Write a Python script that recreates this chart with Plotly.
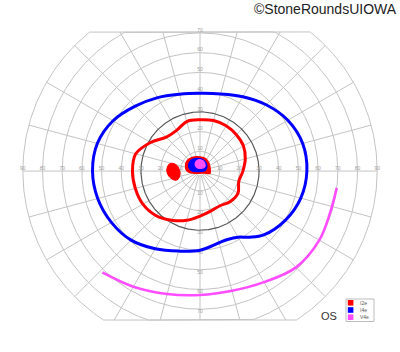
import numpy as np
import plotly.graph_objects as go

# ---------------- data ----------------
ring_ecc = [10, 20, 30, 40, 50, 60, 70, 80, 90]
meridians = list(range(0, 360, 15))
h_tick_vals = [10, 20, 30, 40, 50, 60, 70, 80, 90]
v_tick_vals = [10, 20, 30, 40, 50, 60, 70]
field_top, field_bottom = 70.5, -75.5

# I4e isopter (blue): meridian (deg) / eccentricity (deg)
i4e_meridian = [0, 15, 30, 45, 60, 75, 90, 105, 120, 135, 150, 165, 180, 195, 210,
                225, 240, 255, 270, 285, 292, 300, 307, 315, 330, 345]
i4e_ecc = [54.3, 54.0, 51.5, 47.5, 43.5, 40.5, 39.4, 40.3, 43.0, 46.5, 51.0, 54.0, 54.6,
           53.8, 52.0, 49.5, 45.5, 42.0, 40.1, 37.6, 37.4, 38.7, 42.0, 45.8, 50.0, 53.0]

# I2e isopter (red)
i2e_meridian = [0, 15, 30, 45, 60, 75, 90, 105, 120, 135, 150, 165, 180, 195, 210,
                225, 240, 255, 270, 285, 300, 315, 330, 345]
i2e_ecc = [21.8, 23.8, 25.5, 26.1, 26.5, 26.5, 26.0, 26.0, 23.8, 24.3, 29.0, 33.8, 34.3,
           34.0, 33.5, 31.8, 28.8, 25.8, 22.8, 21.0, 20.3, 21.8, 22.3, 20.4]

# V4e isopter (magenta, open arc)
v4e_meridian = [226, 240, 255, 270, 285, 300, 315, 330, 342, 353]
v4e_ecc = [71.4, 67.7, 64.5, 62.8, 62.8, 65.0, 69.0, 70.0, 69.4, 70.0]

# blind spot (I2e, filled) in x/y degrees
blind_x = [-14.7, -12.0, -10.3, -10.5, -12.3, -14.5, -16.6, -16.5]
blind_y = [3.9, 3.0, 0.0, -3.0, -4.6, -3.8, -1.0, 2.2]

# central islands (x/y degrees)
c_i2e_x = [-7.4, -6.4, -3.5, 0.0, 3.0, 4.6, 5.2, 5.1, 2.0, -1.5, -4.5, -6.8]
c_i2e_y = [2.5, 5.5, 7.1, 7.2, 6.3, 4.0, 1.0, -1.2, -1.0, -1.2, -1.0, 0.2]
c_i4e_x = [-5.8, -4.8, -2.0, 1.2, 3.2, 3.4, 2.5, -1.0, -4.5]
c_i4e_y = [2.5, 5.3, 6.4, 6.0, 4.0, 1.5, 0.2, -0.3, 0.3]
c_v4e_x = [-2.5, -1.5, 0.8, 2.4, 2.3, 0.5, -1.6]
c_v4e_y = [3.5, 5.4, 5.6, 4.0, 2.0, 1.4, 1.8]

legend_names = ["I2e", "I4e", "V4e"]
legend_colors = ["#ff0000", "#0000ff", "#ff4dff"]

# ---------------- figure ----------------
W, H = 400, 352
ML, MR, MT, MB = 13, 13, 29, 29


def polar_xy(mer, ecc, close=False):
    a = np.radians(np.array(mer, float))
    r = np.array(ecc, float)
    x, y = list(r * np.cos(a)), list(r * np.sin(a))
    if close:
        x.append(x[0]); y.append(y[0])
    return x, y


fig = go.Figure()

# grid rings (clamped to the field band -> chords at top/bottom)
gx, gy = [], []
t = np.linspace(0, 2 * np.pi, 721)
for r in ring_ecc:
    if r == 30:
        continue
    gx += list(r * np.cos(t)) + [None]
    gy += list(np.clip(r * np.sin(t), field_bottom, field_top)) + [None]
# meridian lines
for m in meridians:
    a = np.radians(m)
    s = np.sin(a)
    rend = 90.0
    if s > 1e-9:
        rend = min(rend, field_top / s)
    elif s < -1e-9:
        rend = min(rend, field_bottom / s)
    gx += [2 * np.cos(a), rend * np.cos(a), None]
    gy += [2 * np.sin(a), rend * np.sin(a), None]
fig.add_trace(go.Scatter(x=gx, y=gy, mode="lines", line=dict(color="#c4c4c4", width=1),
                         hoverinfo="skip", showlegend=False))
# 30 degree ring darker
fig.add_trace(go.Scatter(x=list(30 * np.cos(t)), y=list(30 * np.sin(t)), mode="lines",
                         line=dict(color="#5a5a5a", width=1.2), hoverinfo="skip", showlegend=False))

# tick labels
lx, ly, lt = [], [], []
for v in h_tick_vals:
    lx += [v, -v]; ly += [1.0, 1.0]; lt += [str(v), str(v)]
for v in v_tick_vals:
    lx += [0, 0]; ly += [v + 1.3, -v - 1.3]; lt += [str(v), str(v)]
fig.add_trace(go.Scatter(x=lx, y=ly, text=lt, mode="text",
                         textfont=dict(size=5, color="#a0a0a0", family="Liberation Sans"),
                         hoverinfo="skip", showlegend=False, cliponaxis=False))

# isopters
x, y = polar_xy(i4e_meridian, i4e_ecc, close=True)
fig.add_trace(go.Scatter(x=x, y=y, mode="lines", name="I4e",
                         line=dict(color="#0000ff", width=3, shape="spline", smoothing=1.0),
                         showlegend=False))
x, y = polar_xy(i2e_meridian, i2e_ecc, close=True)
fig.add_trace(go.Scatter(x=x, y=y, mode="lines", name="I2e",
                         line=dict(color="#ff0000", width=3, shape="spline", smoothing=1.0),
                         showlegend=False))
x, y = polar_xy(v4e_meridian, v4e_ecc)
fig.add_trace(go.Scatter(x=x, y=y, mode="lines", name="V4e",
                         line=dict(color="#ff4dff", width=2.6, shape="spline", smoothing=1.0),
                         showlegend=False))

# blind spot and central islands
for bx, by, col in [(blind_x, blind_y, "#ff0000"),
                    (c_i2e_x, c_i2e_y, "#ff0000"),
                    (c_i4e_x, c_i4e_y, "#0000ff"),
                    (c_v4e_x, c_v4e_y, "#ff4dff")]:
    fig.add_trace(go.Scatter(x=bx + bx[:1], y=by + by[:1], mode="lines", fill="toself",
                             fillcolor=col, line=dict(color=col, width=1.2, shape="spline"),
                             hoverinfo="skip", showlegend=False))


def px(xp):
    return (xp - ML) / (W - ML - MR)


def py(yp):
    return (H - MB - yp) / (H - MT - MB)


shapes = [dict(type="rect", xref="paper", yref="paper", x0=px(346), x1=px(374),
               y0=py(321.5), y1=py(299), line=dict(color="#bdbdbd", width=1), fillcolor="white")]
annotations = []
row_top = [300.0, 307.2, 314.4]
for i, (nm, col) in enumerate(zip(legend_names, legend_colors)):
    shapes.append(dict(type="rect", xref="paper", yref="paper", x0=px(347.8), x1=px(353.4),
                       y0=py(row_top[i] + 5.6), y1=py(row_top[i]), line=dict(width=0),
                       fillcolor=col))
    annotations.append(dict(x=px(358), y=py(row_top[i] + 2.8), xref="paper", yref="paper",
                            text=nm, showarrow=False, xanchor="left", yanchor="middle",
                            font=dict(size=5, color="#555", family="Liberation Sans")))
annotations.append(dict(x=px(328.5), y=py(316), xref="paper", yref="paper", text="OS",
                        showarrow=False, xanchor="center", yanchor="middle",
                        font=dict(size=11, color="#333", family="Liberation Sans")))
annotations.append(dict(x=px(398.5), y=py(9), xref="paper", yref="paper",
                        text="©StoneRoundsUIOWA", showarrow=False, xanchor="right",
                        yanchor="middle",
                        font=dict(size=14, color="#222", family="Liberation Sans")))

fig.update_layout(
    width=W, height=H, margin=dict(l=ML, r=MR, t=MT, b=MB, pad=0),
    paper_bgcolor="white", plot_bgcolor="white",
    xaxis=dict(range=[-95, 95], visible=False, fixedrange=True),
    yaxis=dict(range=[-77, 72], visible=False, fixedrange=True),
    shapes=shapes, annotations=annotations, showlegend=False,
)

fig.write_html("out.html")
